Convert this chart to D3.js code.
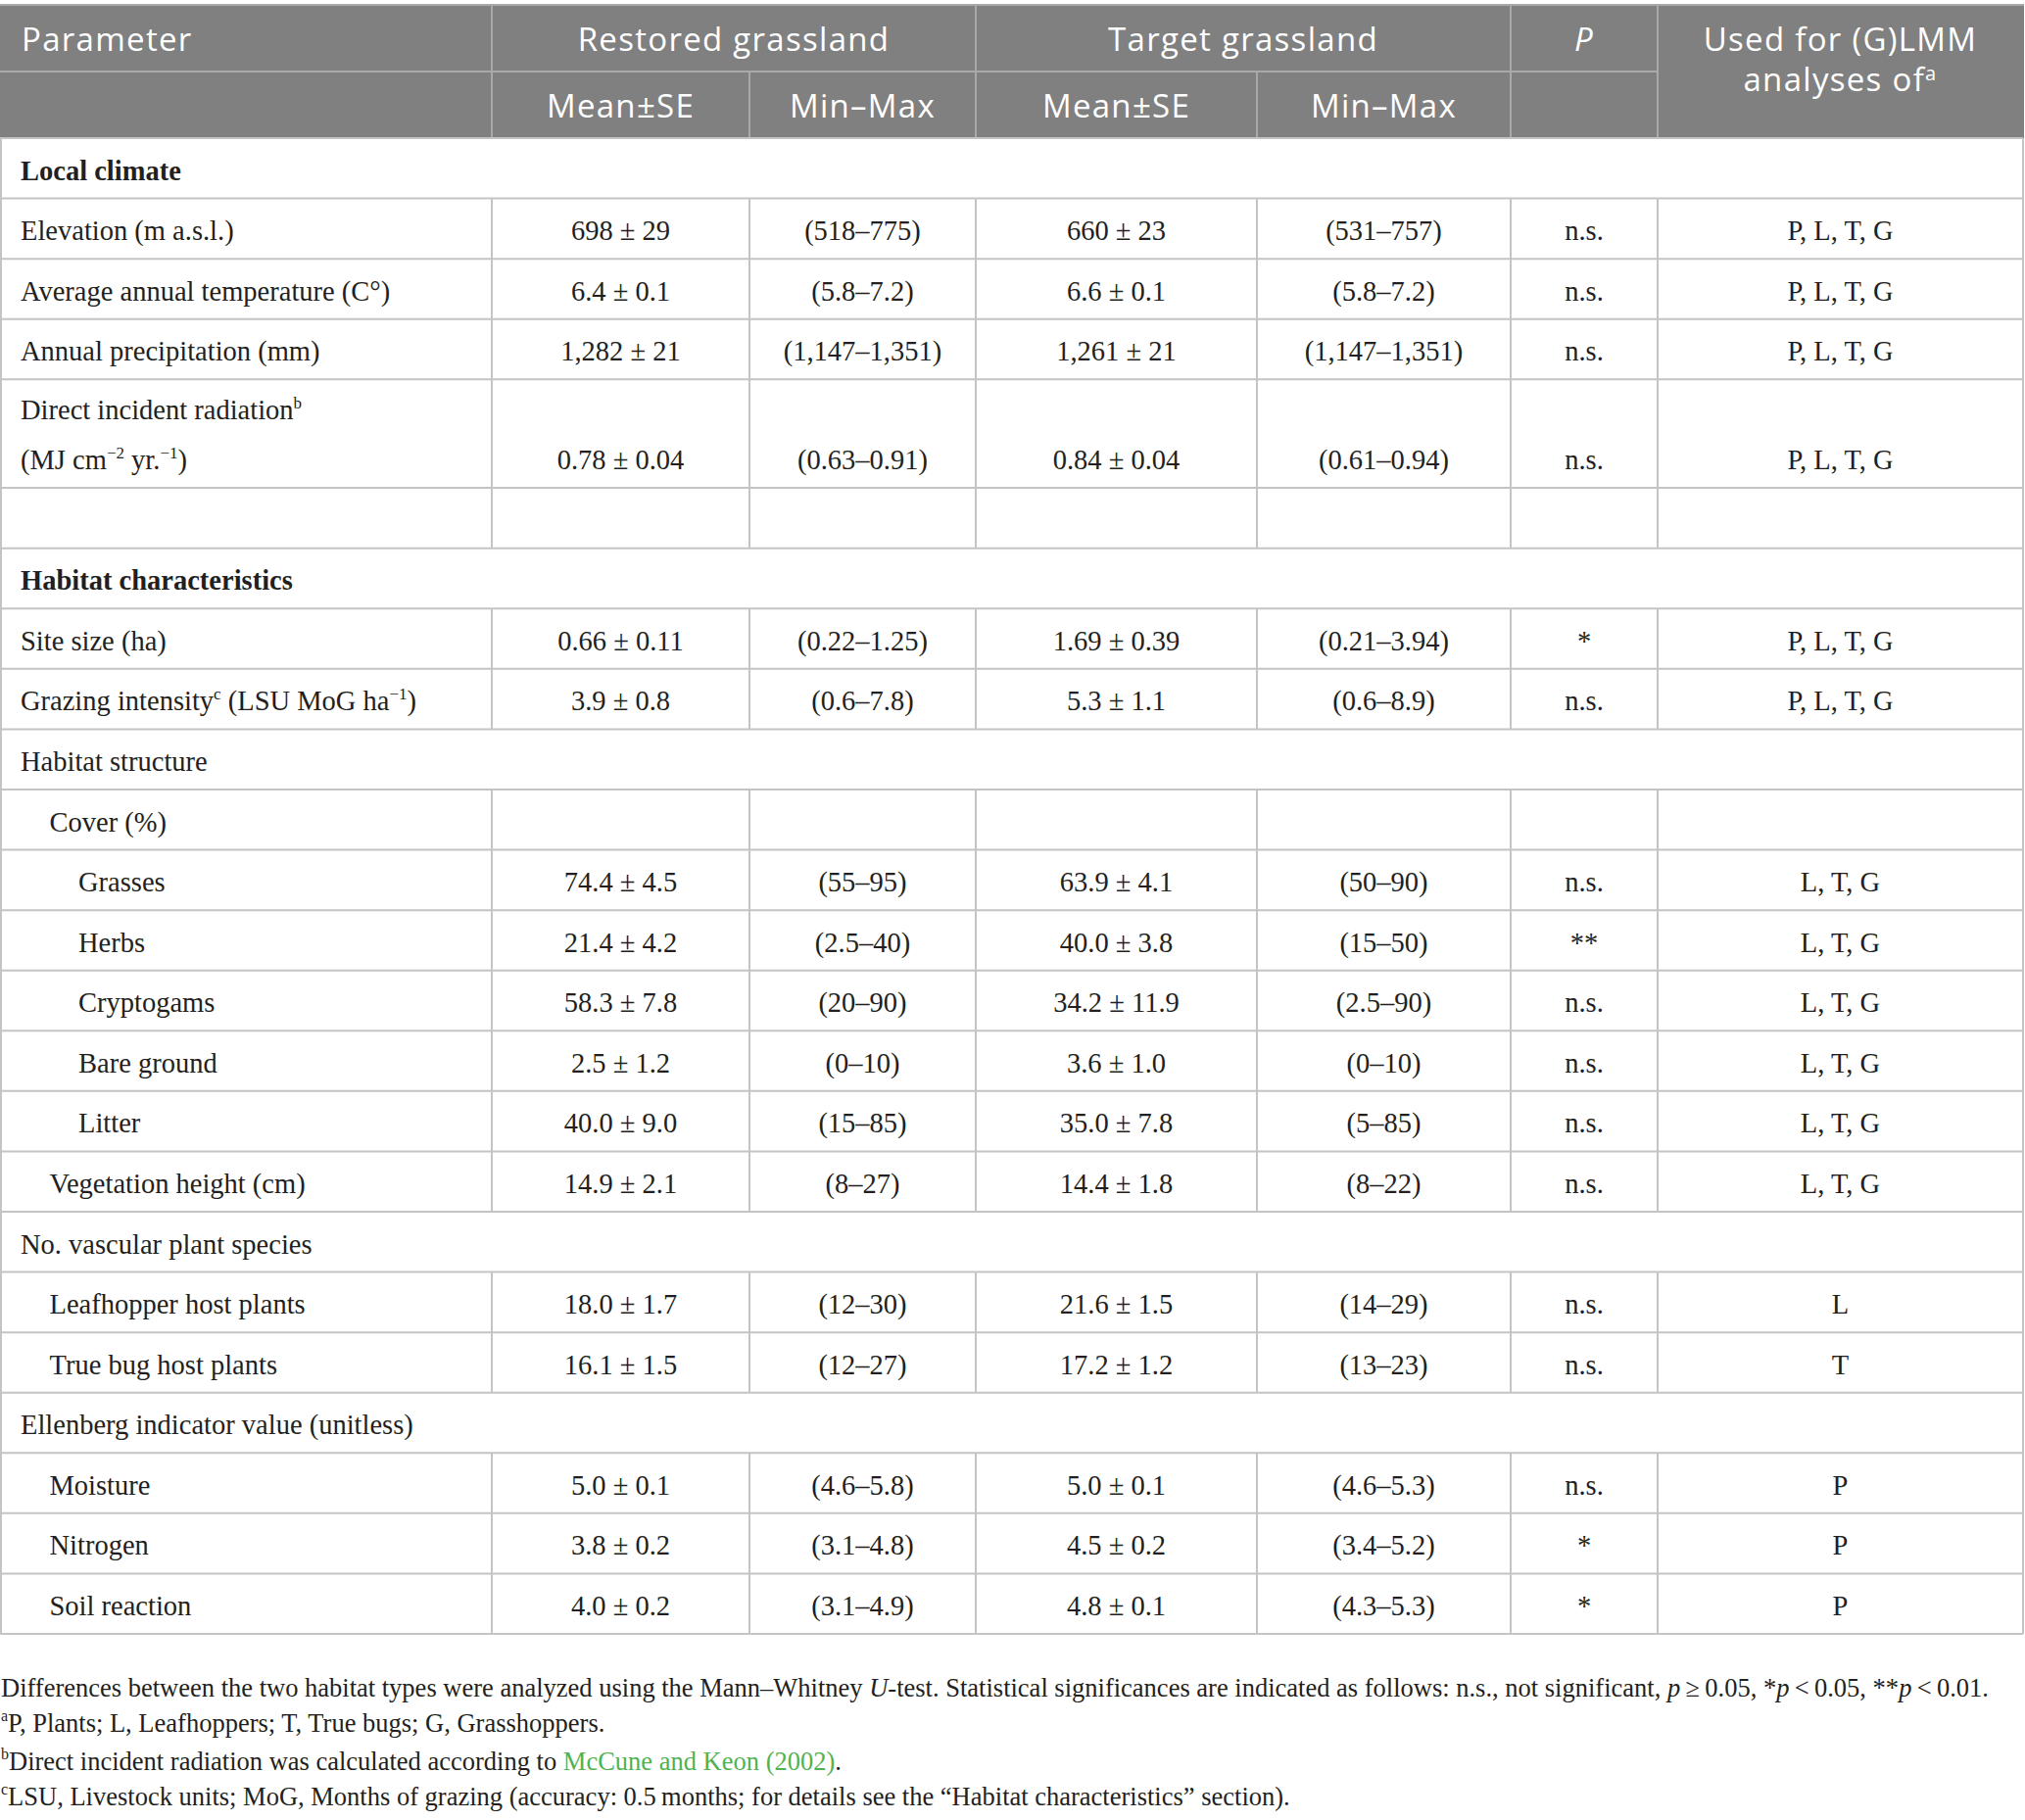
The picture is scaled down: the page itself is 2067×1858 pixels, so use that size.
<!DOCTYPE html>
<html lang="en">
<head>
<meta charset="UTF-8" />
<title>Site parameters table</title>
<style>
  body { margin: 0; background: #fff; }
  .serif { font-family: "Liberation Serif", "DejaVu Serif", serif; fill: #231f20; }
  .head { font-family: "Open Sans", "Noto Sans", sans-serif; fill: #fff; letter-spacing: 1.3px; }
</style>
<script src="https://cdn.jsdelivr.net/npm/d3@7"></script>
</head>
<body>
<div id="chart"></div>
<script>
// ---- table content ----
const headTop = ["Parameter", "Restored grassland", "Target grassland", "P", "Used for (G)LMM|analyses of<sup>a</sup>"];
const headSub = ["Mean\u00b1SE", "Min\u2013Max", "Mean\u00b1SE", "Min\u2013Max"];

const labels = [
  "Local climate",
  "Elevation (m a.s.l.)",
  "Average annual temperature (C\u00b0)",
  "Annual precipitation (mm)",
  "Direct incident radiation<sup>b</sup>|(MJ cm<sup>\u22122</sup> yr.<sup>\u22121</sup>)",
  "",
  "Habitat characteristics",
  "Site size (ha)",
  "Grazing intensity<sup>c</sup> (LSU MoG ha<sup>\u22121</sup>)",
  "Habitat structure",
  "Cover (%)",
  "Grasses",
  "Herbs",
  "Cryptogams",
  "Bare ground",
  "Litter",
  "Vegetation height (cm)",
  "No. vascular plant species",
  "Leafhopper host plants",
  "True bug host plants",
  "Ellenberg indicator value (unitless)",
  "Moisture",
  "Nitrogen",
  "Soil reaction"
];
// 0 = normal row, 1 = bold section (spans), 2 = plain group (spans)
const rowKind = [1,0,0,0,0,0,1,0,0,2,0,0,0,0,0,0,0,2,0,0,2,0,0,0];
const indent = [0,0,0,0,0,0,0,0,0,0,1,2,2,2,2,2,1,0,1,1,0,1,1,1];
const rowUnits = [1,1,1,1,1.8,1,1,1,1,1,1,1,1,1,1,1,1,1,1,1,1,1,1,1];

const T = " \u00b1 ";
const restoredMean = ["", "698"+T+"29", "6.4"+T+"0.1", "1,282"+T+"21", "0.78"+T+"0.04", "", "",
  "0.66"+T+"0.11", "3.9"+T+"0.8", "", "", "74.4"+T+"4.5", "21.4"+T+"4.2", "58.3"+T+"7.8",
  "2.5"+T+"1.2", "40.0"+T+"9.0", "14.9"+T+"2.1", "", "18.0"+T+"1.7", "16.1"+T+"1.5", "",
  "5.0"+T+"0.1", "3.8"+T+"0.2", "4.0"+T+"0.2"];
const restoredRange = ["", "(518\u2013775)", "(5.8\u20137.2)", "(1,147\u20131,351)", "(0.63\u20130.91)", "", "",
  "(0.22\u20131.25)", "(0.6\u20137.8)", "", "", "(55\u201395)", "(2.5\u201340)", "(20\u201390)",
  "(0\u201310)", "(15\u201385)", "(8\u201327)", "", "(12\u201330)", "(12\u201327)", "",
  "(4.6\u20135.8)", "(3.1\u20134.8)", "(3.1\u20134.9)"];
const targetMean = ["", "660"+T+"23", "6.6"+T+"0.1", "1,261"+T+"21", "0.84"+T+"0.04", "", "",
  "1.69"+T+"0.39", "5.3"+T+"1.1", "", "", "63.9"+T+"4.1", "40.0"+T+"3.8", "34.2"+T+"11.9",
  "3.6"+T+"1.0", "35.0"+T+"7.8", "14.4"+T+"1.8", "", "21.6"+T+"1.5", "17.2"+T+"1.2", "",
  "5.0"+T+"0.1", "4.5"+T+"0.2", "4.8"+T+"0.1"];
const targetRange = ["", "(531\u2013757)", "(5.8\u20137.2)", "(1,147\u20131,351)", "(0.61\u20130.94)", "", "",
  "(0.21\u20133.94)", "(0.6\u20138.9)", "", "", "(50\u201390)", "(15\u201350)", "(2.5\u201390)",
  "(0\u201310)", "(5\u201385)", "(8\u201322)", "", "(14\u201329)", "(13\u201323)", "",
  "(4.6\u20135.3)", "(3.4\u20135.2)", "(4.3\u20135.3)"];
const pValues = ["", "n.s.", "n.s.", "n.s.", "n.s.", "", "", "*", "n.s.", "", "", "n.s.", "**", "n.s.",
  "n.s.", "n.s.", "n.s.", "", "n.s.", "n.s.", "", "n.s.", "*", "*"];
const usedFor = ["", "P, L, T, G", "P, L, T, G", "P, L, T, G", "P, L, T, G", "", "", "P, L, T, G", "P, L, T, G",
  "", "", "L, T, G", "L, T, G", "L, T, G", "L, T, G", "L, T, G", "L, T, G", "", "L", "T", "", "P", "P", "P"];

const footnotes = [
  "Differences between the two habitat types were analyzed using the Mann\u2013Whitney <i>U</i>-test. Statistical significances are indicated as follows: n.s., not significant, <i>p</i>\u2009\u2265\u20090.05, *<i>p</i>\u2009<\u20090.05, **<i>p</i>\u2009<\u20090.01.",
  "<sup>a</sup>P, Plants; L, Leafhoppers; T, True bugs; G, Grasshoppers.",
  "<sup>b</sup>Direct incident radiation was calculated according to <a>McCune and Keon (2002)</a>.",
  "<sup>c</sup>LSU, Livestock units; MoG, Months of grazing (accuracy: 0.5\u2009months; for details see the \u201cHabitat characteristics\u201d section)."
];

// ---- layout ----
const W = 2067, H = 1858;
const colEdges = [0, 502, 765, 996, 1283, 1542, 1692, 2065];
const headY = [5, 73, 141];
const tableBottom = 1668;
const lineCol = "#c4c4c4", headBg = "#7f807f", headLine = "#a9a9a9";

const svg = d3.select("#chart").append("svg").attr("width", W).attr("height", H);

const colX = d3.scaleLinear().domain(d3.range(colEdges.length)).range(colEdges);
const cum = [0];
rowUnits.forEach((u) => cum.push(cum[cum.length - 1] + u));
const y = d3.scaleLinear().domain([0, cum[cum.length - 1]]).range([headY[2], tableBottom]);

// write rich text (sup / i / a) into a <text>
function rich(sel, str, supSize) {
  const re = /<(sup|i|a)>(.*?)<\/\1>/g;
  let last = 0, m, shift = 0;
  const add = (txt, tag) => {
    if (!txt) return;
    const t = sel.append("tspan").text(txt);
    if (tag === "sup") {
      t.attr("font-size", supSize).attr("dy", -shift - 11);
      shift = -11;
    } else {
      if (shift) t.attr("dy", -shift);
      shift = 0;
      if (tag === "i") t.attr("font-style", "italic");
      if (tag === "a") t.style("fill", "#4fb34f");
    }
  };
  while ((m = re.exec(str))) {
    add(str.slice(last, m.index));
    add(m[2], m[1]);
    last = re.lastIndex;
  }
  add(str.slice(last));
}

// header
svg.append("rect").attr("x", 0).attr("y", headY[0]).attr("width", colEdges[7] + 1)
  .attr("height", headY[2] - headY[0]).attr("fill", headBg);
const hl = svg.append("g").attr("stroke", headLine).attr("stroke-width", 2);
hl.append("line").attr("x1", 0).attr("x2", colEdges[7] + 1).attr("y1", headY[0]).attr("y2", headY[0]);
hl.append("line").attr("x1", 0).attr("x2", colX(6)).attr("y1", headY[1]).attr("y2", headY[1]);
[1, 3, 5, 6].forEach((i) => hl.append("line").attr("x1", colX(i)).attr("x2", colX(i)).attr("y1", headY[0]).attr("y2", headY[2]));
[2, 4].forEach((i) => hl.append("line").attr("x1", colX(i)).attr("x2", colX(i)).attr("y1", headY[1]).attr("y2", headY[2]));

const hg = svg.append("g").attr("class", "head").attr("font-size", 33);
hg.append("text").attr("x", 22).attr("y", 52).text(headTop[0]);
hg.append("text").attr("x", (colX(1) + colX(3)) / 2).attr("y", 52).attr("text-anchor", "middle").text(headTop[1]);
hg.append("text").attr("x", (colX(3) + colX(5)) / 2).attr("y", 52).attr("text-anchor", "middle").text(headTop[2]);
hg.append("text").attr("x", (colX(5) + colX(6)) / 2).attr("y", 52).attr("text-anchor", "middle")
  .attr("font-style", "italic").text(headTop[3]);
headTop[4].split("|").forEach((ln, k) => {
  const t = hg.append("text").attr("x", (colX(6) + colX(7)) / 2).attr("y", 52 + k * 41).attr("text-anchor", "middle");
  rich(t, ln, 20);
});
headSub.forEach((s, i) => {
  hg.append("text").attr("x", (colX(i + 1) + colX(i + 2)) / 2).attr("y", 120).attr("text-anchor", "middle").text(s);
});

// body grid
const grid = svg.append("g").attr("stroke", lineCol).attr("stroke-width", 2);
cum.forEach((c) => {
  grid.append("line").attr("x1", 0).attr("x2", colX(7)).attr("y1", y(c)).attr("y2", y(c));
});
grid.append("line").attr("x1", 1).attr("x2", 1).attr("y1", y(0)).attr("y2", tableBottom);
grid.append("line").attr("x1", colX(7)).attr("x2", colX(7)).attr("y1", y(0)).attr("y2", tableBottom);
labels.forEach((_, r) => {
  if (rowKind[r] !== 0) return;
  d3.range(1, 7).forEach((i) => {
    grid.append("line").attr("x1", colX(i)).attr("x2", colX(i)).attr("y1", y(cum[r])).attr("y2", y(cum[r + 1]));
  });
});

// body text
const body = svg.append("g").attr("class", "serif").attr("font-size", 28.5);
const cols = [restoredMean, restoredRange, targetMean, targetRange, pValues, usedFor];
labels.forEach((lab, r) => {
  const base = y(cum[r + 1]) - 19;
  const lines = lab.split("|");
  lines.forEach((ln, k) => {
    const t = body.append("text")
      .attr("x", 21 + indent[r] * 29.5)
      .attr("y", base - (lines.length - 1 - k) * 51)
      .attr("font-weight", rowKind[r] === 1 ? "bold" : null);
    rich(t, ln, 17);
  });
  cols.forEach((arr, c) => {
    if (!arr[r]) return;
    body.append("text").attr("x", (colX(c + 1) + colX(c + 2)) / 2).attr("y", base)
      .attr("text-anchor", "middle").text(arr[r]);
  });
});

// footnotes
const fn = svg.append("g").attr("class", "serif").attr("font-size", 26.5);
const fnY = [1732, 1768, 1807, 1843];
footnotes.forEach((f, i) => {
  const t = fn.append("text").attr("x", 1).attr("y", fnY[i]);
  rich(t, f, 16);
});
</script>
</body>
</html>
